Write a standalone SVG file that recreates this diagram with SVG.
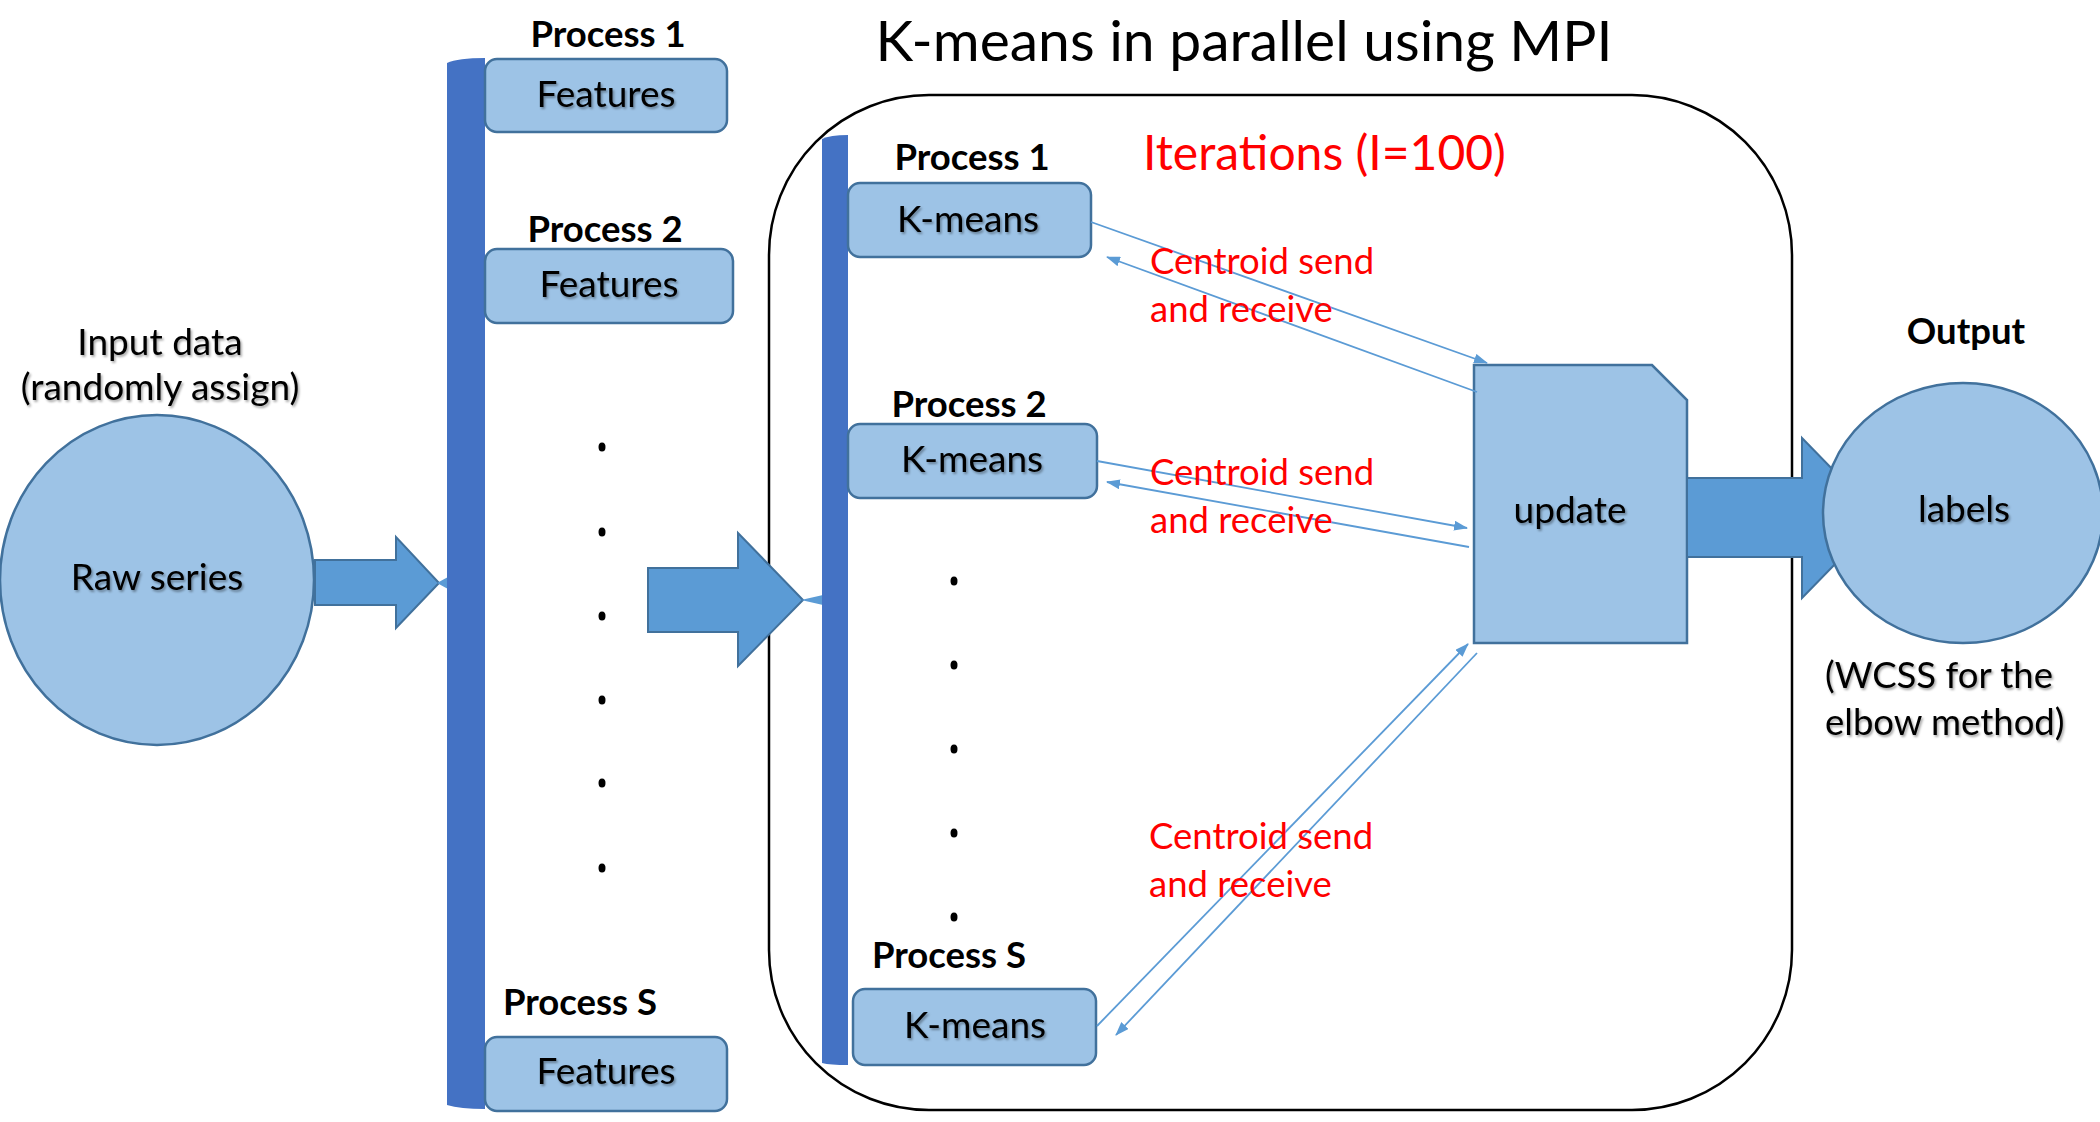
<svg xmlns="http://www.w3.org/2000/svg" width="2100" height="1122" viewBox="0 0 2100 1122">
<defs>
  <filter id="sh" x="-10%" y="-20%" width="130%" height="150%">
    <feDropShadow dx="1.5" dy="2" stdDeviation="1.2" flood-color="#000" flood-opacity="0.35"/>
  </filter>
  <marker id="ah" markerWidth="14" markerHeight="10" refX="13" refY="5" orient="auto" markerUnits="userSpaceOnUse">
    <path d="M0,0 L14,5 L0,10 Z" fill="#5B9BD5"/>
  </marker>
</defs>
<style>
  .box { fill:#9DC3E6; stroke:#41719C; stroke-width:2.5; }
  .bar { fill:#4472C4; }
  .big { fill:#5B9BD5; stroke:#41719C; stroke-width:2; }
  .t { font-family:Lato, "Liberation Sans", sans-serif; fill:#000; }
  .lbl { font-size:36.5px; font-weight:bold; text-anchor:middle; }
  .in { font-size:37px; text-anchor:middle; filter:url(#sh); }
  .red { font-family:Lato, "Liberation Sans", sans-serif; fill:#FF0000; font-size:36.5px; }
  .dot { fill:#000; }
  .con { stroke:#5B9BD5; stroke-width:1.8; fill:none; marker-end:url(#ah); }
</style>
<rect width="2100" height="1122" fill="#fff"/>

<text class="t" x="1244" y="61" style="font-size:57px" text-anchor="middle">K-means in parallel using MPI</text>

<g id="container">
  <rect x="769" y="95" width="1023" height="1015" rx="160" ry="160" fill="none" stroke="#000" stroke-width="2.5"/>
</g>

<g id="input">
  <ellipse cx="157" cy="580" rx="157" ry="165" class="box" stroke-width="2"/>
  <text class="t in" x="157" y="590">Raw series</text>
  <text class="t in" x="160" y="355">Input data</text>
  <text class="t in" x="160" y="400">(randomly assign)</text>
</g>

<g id="arrow-input">
  <polygon class="big" points="315,560 396,560 396,537 439,583 396,628 396,605 315,605"/>
  <polygon points="437,583 448,577 448,589" fill="#5B9BD5"/>
</g>

<g id="bar-left">
  <path class="bar" d="M447,63 Q458,58 485,58 L485,1109 Q460,1109 447,1105 Z"/>
</g>

<g id="features-1">
  <text class="t lbl" x="608" y="47">Process 1</text>
  <rect class="box" x="485" y="59" width="242" height="73" rx="12"/>
  <text class="t in" x="606" y="107">Features</text>
</g>
<g id="features-2">
  <text class="t lbl" x="605" y="242">Process 2</text>
  <rect class="box" x="485" y="249" width="248" height="74" rx="12"/>
  <text class="t in" x="609" y="297">Features</text>
</g>
<g id="features-s">
  <text class="t lbl" x="580" y="1015">Process S</text>
  <rect class="box" x="485" y="1037" width="242" height="74" rx="12"/>
  <text class="t in" x="606" y="1084">Features</text>
</g>

<g id="dots-left">
  <ellipse class="dot" cx="602" cy="447" rx="3.5" ry="4.5"/>
  <ellipse class="dot" cx="602" cy="532" rx="3.5" ry="4.5"/>
  <ellipse class="dot" cx="602" cy="616" rx="3.5" ry="4.5"/>
  <ellipse class="dot" cx="602" cy="700" rx="3.5" ry="4.5"/>
  <ellipse class="dot" cx="602" cy="783" rx="3.5" ry="4.5"/>
  <ellipse class="dot" cx="602" cy="868" rx="3.5" ry="4.5"/>
</g>

<g id="arrow-mid">
  <polygon class="big" points="648,568 738,568 738,533 803,600 738,666 738,632 648,632"/>
  <polygon points="801,600 823,595 823,605" fill="#5B9BD5"/>
</g>

<g id="bar-inner">
  <path class="bar" d="M822,139 Q830,135 848,135 L848,1065 Q830,1065 822,1063 Z"/>
</g>

<g id="kmeans-1">
  <text class="t lbl" x="972" y="170">Process 1</text>
  <rect class="box" x="848" y="183" width="243" height="74" rx="12"/>
  <text class="t in" x="968" y="232">K-means</text>
</g>
<g id="kmeans-2">
  <text class="t lbl" x="969" y="417">Process 2</text>
  <rect class="box" x="848" y="424" width="249" height="74" rx="12"/>
  <text class="t in" x="972" y="472">K-means</text>
</g>
<g id="kmeans-s">
  <text class="t lbl" x="949" y="968">Process S</text>
  <rect class="box" x="853" y="989" width="243" height="76" rx="12"/>
  <text class="t in" x="975" y="1038">K-means</text>
</g>

<g id="dots-inner">
  <ellipse class="dot" cx="954" cy="581" rx="3.5" ry="4.5"/>
  <ellipse class="dot" cx="954" cy="665" rx="3.5" ry="4.5"/>
  <ellipse class="dot" cx="954" cy="749" rx="3.5" ry="4.5"/>
  <ellipse class="dot" cx="954" cy="833" rx="3.5" ry="4.5"/>
  <ellipse class="dot" cx="954" cy="917" rx="3.5" ry="4.5"/>
</g>

<text class="red" x="1143" y="170" style="font-size:48px">Iterations (I=100)</text>

<g id="update">
  <polygon class="box" points="1474,365 1652,365 1687,400 1687,643 1474,643"/>
  <text class="t in" x="1570" y="523">update</text>
</g>

<g id="arrow-out">
  <polygon class="big" points="1687,478 1802,478 1802,438 1880,518 1802,598 1802,557 1687,557"/>
</g>

<g id="labels">
  <ellipse cx="1963" cy="513" rx="140" ry="130" class="box" stroke-width="2"/>
  <text class="t in" x="1964" y="522">labels</text>
  <text class="t" x="1966" y="344" style="font-size:36.5px" font-weight="bold" text-anchor="middle">Output</text>
  <text class="t" x="1825" y="688" style="font-size:36.5px" filter="url(#sh)">(WCSS for the</text>
  <text class="t" x="1825" y="735" style="font-size:36.5px" filter="url(#sh)">elbow method)</text>
</g>

<g id="connectors">
  <line class="con" x1="1091" y1="222" x2="1487" y2="363"/>
  <line class="con" x1="1477" y1="392" x2="1107" y2="257"/>
  <line class="con" x1="1097" y1="461" x2="1467" y2="528"/>
  <line class="con" x1="1469" y1="547" x2="1107" y2="482"/>
  <line class="con" x1="1097" y1="1026" x2="1468" y2="644"/>
  <line class="con" x1="1477" y1="653" x2="1116" y2="1035"/>
</g>

<g id="red-labels">
  <text class="red" x="1150" y="274">Centroid send</text>
  <text class="red" x="1150" y="322">and receive</text>
  <text class="red" x="1150" y="485">Centroid send</text>
  <text class="red" x="1150" y="533">and receive</text>
  <text class="red" x="1149" y="849">Centroid send</text>
  <text class="red" x="1149" y="897">and receive</text>
</g>
</svg>
